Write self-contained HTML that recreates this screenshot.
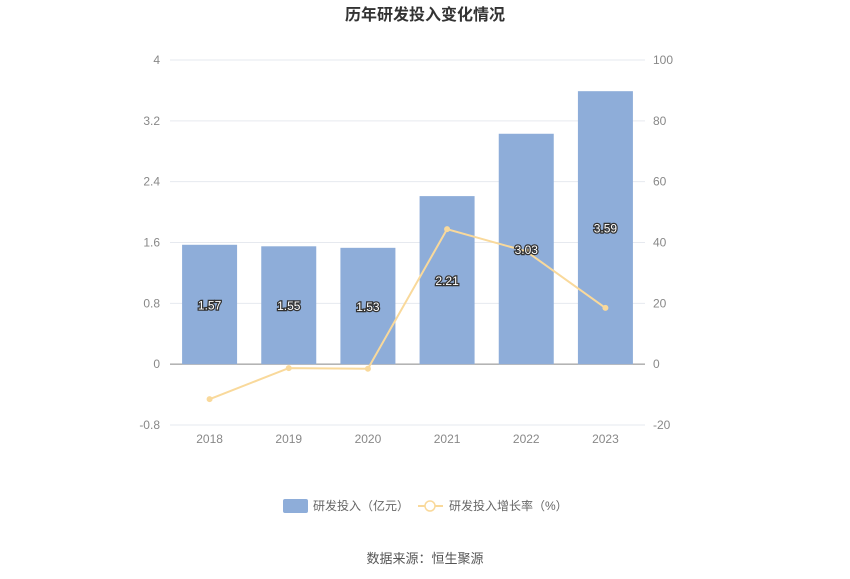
<!DOCTYPE html>
<html><head><meta charset="utf-8"><style>
body{margin:0;background:#fff;font-family:"Liberation Sans","Noto Sans CJK SC",sans-serif;}
svg text{font-family:"Liberation Sans","Noto Sans CJK SC",sans-serif;}
</style></head><body>
<svg id="c" width="850" height="574">
<text x="425" y="20" text-anchor="middle" font-size="16" font-weight="bold" fill="#333">历年研发投入变化情况</text>
<g id="grid"></g><g id="bars"></g><g id="line"></g><g id="labels"></g>
<g>
<rect x="283" y="499" width="25" height="14" rx="2" fill="#8eadd9"/>
<text x="313" y="510" font-size="12" fill="#666">研发投入（亿元）</text>
<line x1="418" y1="506" x2="443" y2="506" stroke="#f9d99b" stroke-width="2"/>
<circle cx="430" cy="506" r="5" fill="#fff" stroke="#f9d99b" stroke-width="1.5"/>
<text x="449" y="510" font-size="12" fill="#666">研发投入增长率（%）</text>
</g>
<text x="425" y="563" text-anchor="middle" font-size="13" fill="#555">数据来源：恒生聚源</text>
</svg>
<script>
const categories=["2018","2019","2020","2021","2022","2023"];
const investment=[1.57,1.55,1.53,2.21,3.03,3.59];
const growth=[-11.5,-1.3,-1.5,44.4,37.1,18.5];
const leftTicks=[-0.8,0,0.8,1.6,2.4,3.2,4];
const rightTicks=[-20,0,20,40,60,80,100];
const NS="http://www.w3.org/2000/svg";
const x0=170,x1=645,yTop=60,yBot=425;
const yL=v=>yBot-(v+0.8)/4.8*(yBot-yTop);
const yR=v=>yBot-(v+20)/120*(yBot-yTop);
const step=(x1-x0)/categories.length;
const xC=i=>x0+step*(i+0.5);
function mk(t,a,p){const e=document.createElementNS(NS,t);for(const k in a)e.setAttribute(k,a[k]);p.appendChild(e);return e;}
const grid=document.getElementById('grid');
leftTicks.forEach((v,i)=>{
 const y=yL(v);
 const g=mk('line',{x1:x0,x2:x1,y1:y,y2:y,stroke:v===0?'#888':'#e6e9ef','stroke-width':1},grid);
 
 
 const t=mk('text',{x:x0-10,y:y+4,'text-anchor':'end','font-size':12,fill:'#888'},grid);
 t.textContent=String(v);
 
 
});
rightTicks.forEach(v=>{
 const t=mk('text',{x:x1+8,y:yR(v)+4,'font-size':12,fill:'#888'},grid);
 t.textContent=String(v);
 
 
});
categories.forEach((c,i)=>{
 const t=mk('text',{x:xC(i),y:yBot+18,'text-anchor':'middle','font-size':12,fill:'#888'},grid);
 t.textContent=c;
 
 
});
const bars=document.getElementById('bars'),labels=document.getElementById('labels');
investment.forEach((v,i)=>{
 const bw=55,y=yL(v),y0=yL(0);
 const r=mk('rect',{x:xC(i)-bw/2,y:y,width:bw,height:y0-y,fill:'#8eadd9'},bars);
 
 
 const t=mk('text',{x:xC(i),y:(y+y0)/2+5,'text-anchor':'middle','font-size':12,fill:'#fff',stroke:'#333','stroke-width':2.5,'paint-order':'stroke'},labels);
 t.textContent=v.toFixed(2);
 
 
});
const line=document.getElementById('line');
const p=mk('polyline',{points:growth.map((v,i)=>xC(i)+','+yR(v)).join(' '),fill:'none',stroke:'#f9d99b','stroke-width':2},line);


growth.forEach((v,i)=>{
 const c=mk('circle',{cx:xC(i),cy:yR(v),r:2.5,fill:'#f9d99b',stroke:'#f9d99b'},line);
 
 
});
</script>
</body></html>
